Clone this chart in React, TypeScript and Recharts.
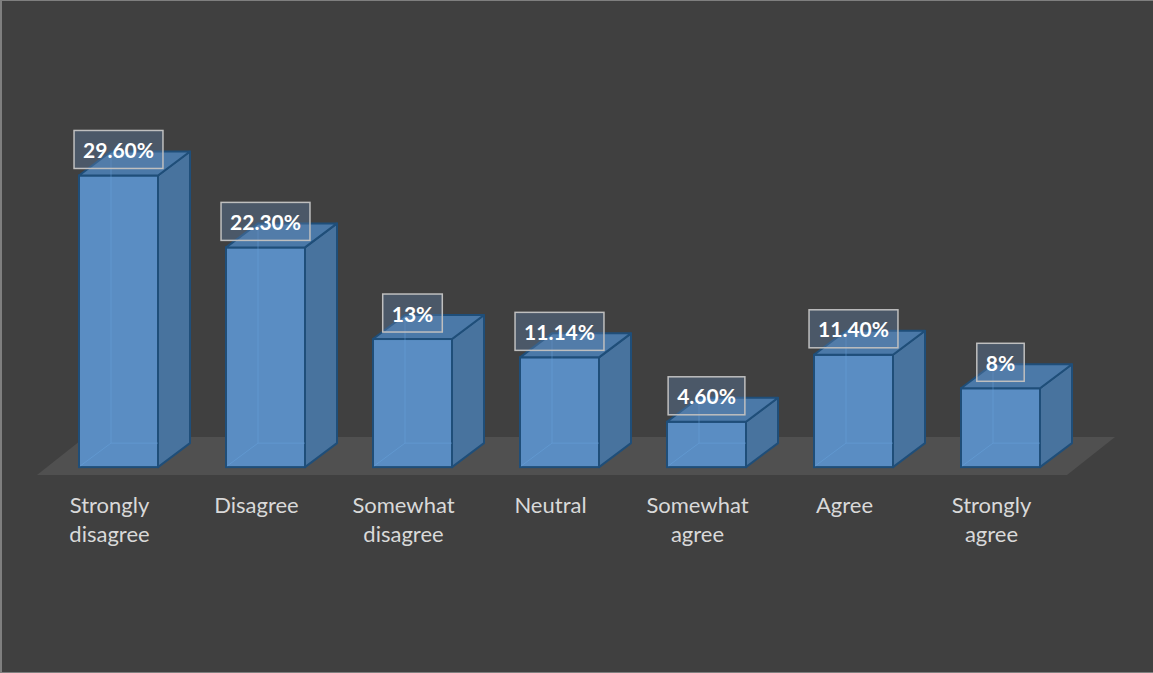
import { useLayoutEffect, useRef, useState } from 'react'
import { BarChart, Bar, XAxis, YAxis, LabelList, ReferenceArea } from 'recharts'

const categories = ['Strongly disagree', 'Disagree', 'Somewhat disagree', 'Neutral', 'Somewhat agree', 'Agree', 'Strongly agree']
const shares = [29.6, 22.3, 13, 11.14, 4.6, 11.4, 8]
const shareLabels = ['29.60%', '22.30%', '13%', '11.14%', '4.60%', '11.40%', '8%']

const data = categories.map((name, i) => ({ name, value: shares[i], label: shareLabels[i] }))

const DX = 32
const DY = 24
const FONT = 'Lato, "Open Sans", sans-serif'

function Box3D(props: any) {
  const { x, y, width: w, height: h } = props
  if (w == null || h == null) return null
  const b = y + h
  const edge = '#1f4e79'
  return (
    <g>
      <rect x={x} y={y} width={w} height={h} fill="#5a8dc3" stroke={edge} strokeWidth={2} />
      <polygon
        points={`${x + w},${y} ${x + w + DX},${y - DY} ${x + w + DX},${b - DY} ${x + w},${b}`}
        fill="#48739e" stroke={edge} strokeWidth={2} strokeLinejoin="round" />
      <polygon
        points={`${x},${y} ${x + DX},${y - DY} ${x + w + DX},${y - DY} ${x + w},${y}`}
        fill="#4b79a8" stroke={edge} strokeWidth={2} strokeLinejoin="round" />
      {/* back edges seen through the glassy front */}
      <g stroke="#6aa6e0" strokeWidth={1} opacity={0.45}>
        <line x1={x + DX} y1={y - DY + 2} x2={x + DX} y2={b - DY} />
        <line x1={x + DX} y1={b - DY} x2={x + w} y2={b - DY} />
        <line x1={x + 1} y1={b - 1} x2={x + DX} y2={b - DY} />
      </g>
    </g>
  )
}

function ValueLabel(props: any) {
  const { x, y, width, value } = props
  const ref = useRef<SVGTextElement>(null)
  const [tw, setTw] = useState(60)
  useLayoutEffect(() => {
    if (ref.current) setTw(ref.current.getComputedTextLength())
  }, [value])
  const cx = x + width / 2
  const boxW = tw + 18
  const boxH = 38
  const bottom = y - 7
  return (
    <g>
      <rect x={cx - boxW / 2} y={bottom - boxH} width={boxW} height={boxH}
        fill="rgba(95,130,170,0.38)" stroke="#bfbfbf" strokeWidth={1.5} />
      <text ref={ref} x={cx} y={bottom - boxH / 2} textAnchor="middle" dominantBaseline="central"
        fill="#ffffff" fontFamily={FONT} fontWeight={700} fontSize={21}>{value}</text>
    </g>
  )
}

function CategoryTick(props: any) {
  const { x, y, payload } = props
  const words = String(payload.value).split(' ')
  return (
    <text x={x - 9} y={y + 30} textAnchor="middle" fill="#d9d9d9" fontFamily={FONT} fontSize={22}>
      {words.map((w, i) => (
        <tspan key={i} x={x - 9} dy={i === 0 ? 0 : 29}>{w}</tspan>
      ))}
    </text>
  )
}

function Floor(props: any) {
  const { x, y, width, height } = props
  const fy = y + height
  return (
    <polygon
      points={`${x - 8},${fy} ${x + width - 7},${fy} ${x + width + 41},${y} ${x + 40},${y}`}
      fill="#505050" />
  )
}

export default function App() {
  return (
    <div style={{ position: 'relative', width: 1153, height: 673, background: '#404040' }}>
      <style>{'body{margin:0;background:#404040}'}</style>
      <BarChart width={1153} height={673} data={data}
        margin={{ top: 73, right: 79, bottom: 138, left: 45 }} barSize={79}>
        <YAxis hide domain={[-0.8, 40]} />
        <XAxis dataKey="name" height={60} axisLine={false} tickLine={false}
          interval={0} tick={<CategoryTick />} />
        <ReferenceArea y1={-0.8} y2={3.06} ifOverflow="visible" shape={<Floor />} zIndex={-1} />
        <Bar dataKey="value" shape={<Box3D />} isAnimationActive={false}>
          <LabelList dataKey="label" content={<ValueLabel />} />
        </Bar>
      </BarChart>
      <div style={{
        position: 'absolute', inset: 0, pointerEvents: 'none',
        borderLeft: '2px solid #7f7f7f', borderTop: '1px solid #7f7f7f', borderBottom: '1px solid #7f7f7f',
      }} />
    </div>
  )
}
